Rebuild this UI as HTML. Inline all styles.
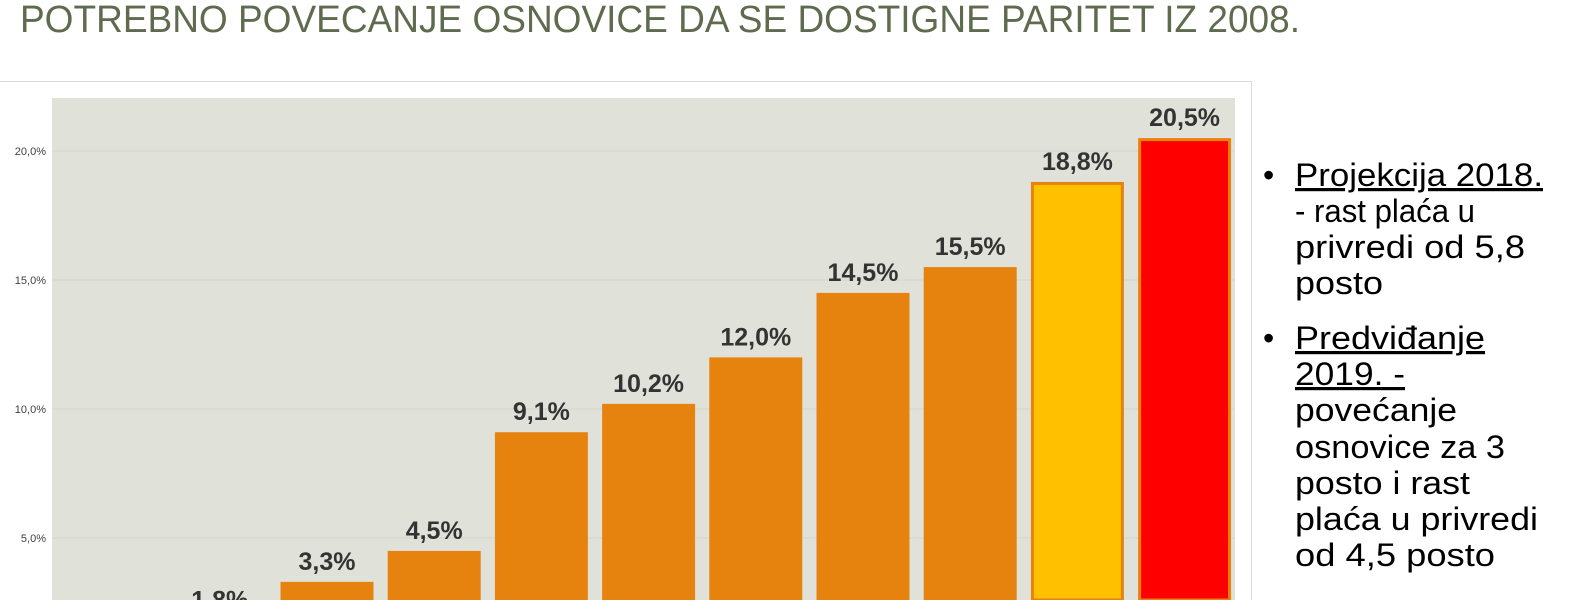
<!DOCTYPE html>
<html><head><meta charset="utf-8"><style>
html,body{margin:0;padding:0;background:#fff;width:1593px;height:600px;overflow:hidden}
svg{display:block;font-family:"Liberation Sans",sans-serif;overflow:hidden}
</style></head><body>
<svg id="c" width="1593" height="600" viewBox="0 0 1593 600">
<text x="20" y="32" font-size="38" fill="#5e6b4e" textLength="1280" lengthAdjust="spacingAndGlyphs">POTREBNO POVECANJE OSNOVICE DA SE DOSTIGNE PARITET IZ 2008.</text>
<line x1="0" y1="81.5" x2="1251" y2="81.5" stroke="#d9d9d9"/>
<line x1="1251.5" y1="81" x2="1251.5" y2="600" stroke="#d9d9d9"/>
<rect x="52" y="98" width="1183" height="502" fill="#e0e2da"/>
<g id="grid"></g><g id="bars"></g>
<g font-size="32" fill="#000">
<text x="1263" y="186">•</text>
<text x="1295" y="186" text-decoration="underline" textLength="248" lengthAdjust="spacingAndGlyphs">Projekcija 2018.</text>
<text x="1295" y="222" textLength="180" lengthAdjust="spacingAndGlyphs">- rast plaća u</text>
<text x="1295" y="258" textLength="230" lengthAdjust="spacingAndGlyphs">privredi od 5,8</text>
<text x="1295" y="294" textLength="88" lengthAdjust="spacingAndGlyphs">posto</text>
<text x="1263" y="349">•</text>
<text x="1295" y="349" text-decoration="underline" textLength="190" lengthAdjust="spacingAndGlyphs">Predviđanje</text>
<text x="1295" y="385" text-decoration="underline" textLength="110" lengthAdjust="spacingAndGlyphs">2019. -</text>
<text x="1295" y="421" textLength="162" lengthAdjust="spacingAndGlyphs">povećanje</text>
<text x="1295" y="458" textLength="210" lengthAdjust="spacingAndGlyphs">osnovice za 3</text>
<text x="1295" y="494" textLength="175" lengthAdjust="spacingAndGlyphs">posto i rast</text>
<text x="1295" y="530" textLength="243" lengthAdjust="spacingAndGlyphs">plaća u privredi</text>
<text x="1295" y="566" textLength="200" lengthAdjust="spacingAndGlyphs">od 4,5 posto</text>
</g>
</svg>
<script>
const values=[0.5,1.8,3.3,4.5,9.1,10.2,12.0,14.5,15.5,18.8,20.5];
const labels=["0,5%","1,8%","3,3%","4,5%","9,1%","10,2%","12,0%","14,5%","15,5%","18,8%","20,5%"];
const colors=["#e6830f","#e6830f","#e6830f","#e6830f","#e6830f","#e6830f","#e6830f","#e6830f","#e6830f","#ffc000","#ff0000"];
const ticks=[5,10,15,20];
const tickLabels=["5,0%","10,0%","15,0%","20,0%"];
const NS="http://www.w3.org/2000/svg";
const x0=59,slot=107.2,bw=93;
function y(v){return 667-v*25.8;}
function xc(i){return x0+(i+0.5)*slot;}
const g=document.getElementById('grid'),b=document.getElementById('bars');
ticks.forEach((t,i)=>{
 const l=document.createElementNS(NS,'line');
 l.setAttribute('x1',52);l.setAttribute('x2',1235);l.setAttribute('y1',y(t));l.setAttribute('y2',y(t));
 l.setAttribute('stroke','#d3d6cc');
 
 
 g.appendChild(l);
 const tx=document.createElementNS(NS,'text');
 tx.setAttribute('x',46);tx.setAttribute('y',y(t)+4);tx.setAttribute('text-anchor','end');
 tx.setAttribute('font-size','11');tx.setAttribute('fill','#404040');
 tx.textContent=tickLabels[i];
 
 
 g.appendChild(tx);
});
values.forEach((v,i)=>{
 const hi=i>=9;
 const top=y(v)+(hi?1.5:0);
 if(top<600){
  const r=document.createElementNS(NS,'rect');
  r.setAttribute('x',xc(i)-bw/2+(hi?1.5:0));r.setAttribute('y',top);
  r.setAttribute('width',bw-(hi?3:0));r.setAttribute('height',Math.max(0,600-top));
  r.setAttribute('fill',colors[i]);
  if(hi){r.setAttribute('stroke','#e6830f');r.setAttribute('stroke-width','3');}
  
  
  b.appendChild(r);
 }
 const ly=y(v)-12;
 if(ly<625){
  const t=document.createElementNS(NS,'text');
  t.setAttribute('x',xc(i));t.setAttribute('y',ly);t.setAttribute('text-anchor','middle');
  t.setAttribute('font-size','25');t.setAttribute('font-weight','bold');t.setAttribute('fill','#333');
  t.textContent=labels[i];
  
  
  b.appendChild(t);
 }
});
</script>
</body></html>
